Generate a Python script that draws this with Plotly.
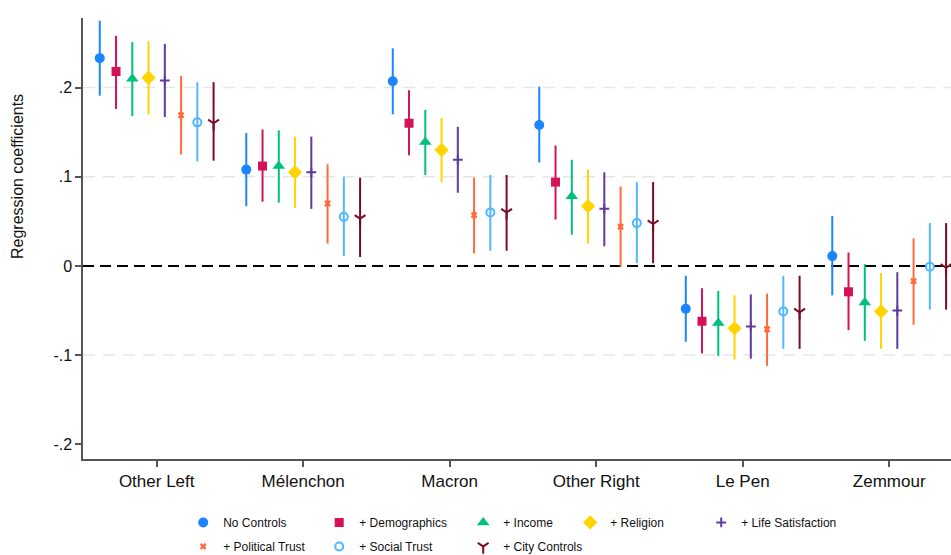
import plotly.graph_objects as go

categories = ["Other Left", "Mélenchon", "Macron", "Other Right", "Le Pen", "Zemmour"]

model_names = ["No Controls", "+ Demographics", "+ Income", "+ Religion",
               "+ Life Satisfaction", "+ Political Trust", "+ Social Trust", "+ City Controls"]

coef_no_controls = [0.233, 0.108, 0.207, 0.158, -0.048, 0.011]
lo_no_controls = [0.191, 0.067, 0.170, 0.116, -0.085, -0.033]
hi_no_controls = [0.275, 0.149, 0.244, 0.201, -0.011, 0.056]

coef_demographics = [0.218, 0.112, 0.160, 0.094, -0.062, -0.029]
lo_demographics = [0.176, 0.072, 0.124, 0.052, -0.098, -0.072]
hi_demographics = [0.258, 0.153, 0.197, 0.135, -0.025, 0.015]

coef_income = [0.210, 0.112, 0.139, 0.078, -0.064, -0.041]
lo_income = [0.168, 0.071, 0.102, 0.035, -0.101, -0.084]
hi_income = [0.251, 0.152, 0.175, 0.119, -0.028, 0.002]

coef_religion = [0.211, 0.105, 0.130, 0.067, -0.070, -0.051]
lo_religion = [0.170, 0.065, 0.094, 0.025, -0.105, -0.093]
hi_religion = [0.252, 0.145, 0.166, 0.108, -0.033, -0.008]

coef_life_sat = [0.208, 0.105, 0.119, 0.064, -0.068, -0.050]
lo_life_sat = [0.167, 0.064, 0.082, 0.022, -0.104, -0.093]
hi_life_sat = [0.249, 0.145, 0.156, 0.105, -0.032, -0.007]

coef_pol_trust = [0.169, 0.070, 0.057, 0.044, -0.071, -0.017]
lo_pol_trust = [0.125, 0.025, 0.014, -0.001, -0.112, -0.066]
hi_pol_trust = [0.213, 0.114, 0.099, 0.089, -0.031, 0.031]

coef_soc_trust = [0.161, 0.055, 0.060, 0.048, -0.051, -0.001]
lo_soc_trust = [0.117, 0.011, 0.017, 0.003, -0.093, -0.049]
hi_soc_trust = [0.206, 0.100, 0.102, 0.094, -0.011, 0.048]

coef_city = [0.160, 0.053, 0.060, 0.047, -0.052, -0.002]
lo_city = [0.118, 0.010, 0.017, 0.003, -0.093, -0.049]
hi_city = [0.206, 0.099, 0.102, 0.094, -0.011, 0.048]

y_tickvals = [-0.2, -0.1, 0, 0.1, 0.2]
y_ticktext = ["-.2", "-.1", "0", ".1", ".2"]
grid_values = [0.2, 0.1, -0.1]

coefs = [coef_no_controls, coef_demographics, coef_income, coef_religion,
         coef_life_sat, coef_pol_trust, coef_soc_trust, coef_city]
los = [lo_no_controls, lo_demographics, lo_income, lo_religion,
       lo_life_sat, lo_pol_trust, lo_soc_trust, lo_city]
his = [hi_no_controls, hi_demographics, hi_income, hi_religion,
       hi_life_sat, hi_pol_trust, hi_soc_trust, hi_city]

colors = ["#1a85ff", "#d41159", "#00bf7f", "#ffd400",
          "#5e3c9e", "#ff6a3c", "#4fb8ff", "#7a0a25"]
symbols = ["circle", "square", "triangle-up", "diamond",
           "cross-thin", "x", "circle-open", "y-down"]
sizes = [10, 9, 11, 11, 7, 6, 8, 9]
legend_ids = ["legend", "legend2", "legend3", "legend4", "legend5",
              "legend", "legend2", "legend3"]

fig = go.Figure()
for i in range(8):
    c = colors[i]
    lw = 2 if symbols[i] in ("cross-thin", "y-down", "circle-open") else 0
    fig.add_trace(go.Scatter(
        x=categories, y=coefs[i], mode="markers", name=model_names[i],
        offsetgroup=str(i), legend=legend_ids[i], legendgroup=str(i),
        marker=dict(symbol=symbols[i], size=sizes[i], color=c, line=dict(width=lw, color=c)),
        error_y=dict(type="data", symmetric=False,
                     array=[h - m for h, m in zip(his[i], coefs[i])],
                     arrayminus=[m - l for m, l in zip(coefs[i], los[i])],
                     color=c, thickness=2, width=0),
    ))

shapes = []
for g in grid_values:
    shapes.append(dict(type="line", xref="paper", yref="y", x0=0, x1=1, y0=g, y1=g,
                       line=dict(color="#e6e6e6", width=1.5, dash="12px,8px"), layer="below"))
shapes.append(dict(type="line", xref="paper", yref="y", x0=0, x1=1, y0=0, y1=0,
                   line=dict(color="#000000", width=2, dash="11px,6px"), layer="below"))

font_family = "Liberation Sans, Arial, Helvetica, sans-serif"
leg_common = dict(font=dict(size=12, family=font_family, color="#111"),
                  bgcolor="rgba(0,0,0,0)", orientation="v", yanchor="top",
                  xanchor="left", tracegroupgap=5, itemwidth=30)
col_px = [204, 340, 484, 591, 722]

layout_legends = {}
for k, px in enumerate(col_px):
    key = "legend" if k == 0 else f"legend{k+1}"
    layout_legends[key] = dict(leg_common, x=(px - 1 - 83 - 19.8) / 868, y=-0.111)

fig.update_layout(
    width=951, height=555,
    margin=dict(l=83, r=0, t=18, b=96, autoexpand=False),
    paper_bgcolor="white", plot_bgcolor="white",
    scattermode="group", scattergap=0.112,
    showlegend=True,
    shapes=shapes,
    font=dict(family=font_family, color="#111"),
    xaxis=dict(type="category", range=[-0.503, 5.422], showgrid=False, automargin=False,
               showline=True, linecolor="#555", linewidth=1.5,
               ticks="outside", ticklen=6, tickcolor="#555", tickwidth=1.5,
               tickfont=dict(size=17, family=font_family, color="#111"), zeroline=False),
    yaxis=dict(range=[-0.2165, 0.278], tickvals=y_tickvals, ticktext=y_ticktext, automargin=False,
               showgrid=False, zeroline=False, showline=True, linecolor="#555", linewidth=1.5,
               ticks="outside", ticklen=6, tickcolor="#555", tickwidth=1.5,
               tickfont=dict(size=16, family=font_family, color="#111")),
    annotations=[dict(text="Regression coefficients", xref="paper", yref="paper",
                      x=(18 - 83) / 868, y=(459 - 177) / 441, xanchor="center", yanchor="middle",
                      textangle=-90, showarrow=False,
                      font=dict(size=16, family=font_family, color="#111"))],
    **layout_legends,
)

fig.write_html("out.html", config={"displayModeBar": False},
               post_script="document.body.style.margin='0px';document.body.style.padding='0px';")
